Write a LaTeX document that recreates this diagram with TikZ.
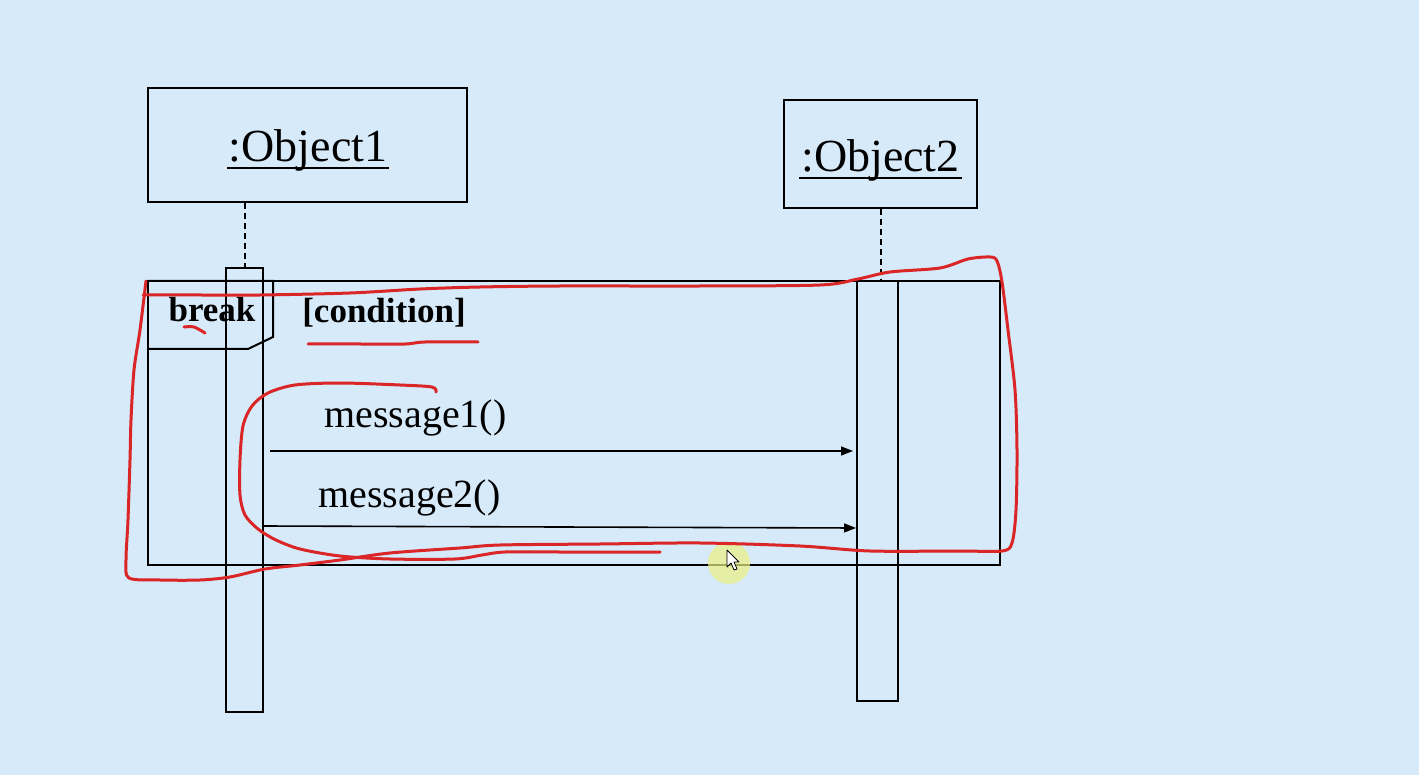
\documentclass[tikz,border=0pt]{standalone}
\usepackage{fontspec}
\setmainfont{Liberation Serif}
\usetikzlibrary{arrows.meta,calc}
\definecolor{bg}{RGB}{215,234,250}
\definecolor{ink}{RGB}{218,38,38}
\definecolor{hilite}{RGB}{236,240,130}
\begin{document}
\begin{tikzpicture}[x=1pt,y=-1pt,
  box/.style={draw=black, line width=2pt, inner sep=0pt, fill=none},
  objtxt/.style={inner sep=0pt, font=\fontsize{46}{52}\selectfont},
  msgtxt/.style={inner sep=0pt, font=\fontsize{40}{46}\selectfont},
  boldtxt/.style={inner sep=0pt, font=\fontsize{35}{40}\selectfont\bfseries},
  ulin/.style={line width=1.8pt},
  life/.style={line width=2pt, dash pattern=on 6pt off 4pt},
  msgarrow/.style={line width=1.6pt, -{Triangle[length=12pt,width=9pt]}},
  annot/.style={draw=ink, line width=3pt, line cap=round, line join=round}]
\fill[bg] (0,0) rectangle (1419,775);
\useasboundingbox (0,0) rectangle (1419,775);

% object boxes
\node[box, minimum width=319pt, minimum height=114pt] (o1) at (307.5,145) {};
\node[box, minimum width=193pt, minimum height=108pt] (o2) at (880.5,154) {};
\node[objtxt, anchor=base] (o1t) at (308,162) {:Object1};
\node[objtxt, anchor=base] (o2t) at (880.5,172) {:Object2};
\draw[ulin] ($(o1t.base west)+(-2,6)$) -- ($(o1t.base east)+(2,6)$);
\draw[ulin] ($(o2t.base west)+(-2,6)$) -- ($(o2t.base east)+(2,6)$);

% frame
\node[box, minimum width=852pt, minimum height=284pt] (fr) at (574,423) {};
\draw[line width=2pt] (148,281) -- (273,281) -- (273,337) -- (248,349) -- (148,349);

% activations
\node[box, minimum width=37pt, minimum height=444pt] (a1) at (244.5,490) {};
\node[box, minimum width=41pt, minimum height=420pt] (a2) at (877.5,491) {};

% lifelines
\draw[life] (a1.north |- o1.south) -- (a1.north);
\draw[life] (o2.south) -- (o2.south |- a2.north);

% labels
\node[boldtxt, anchor=base] (brk) at (212,322) {break};
\node[boldtxt, anchor=base] (cond) at (384,323) {[condition]};
\node[msgtxt, anchor=base] (m1) at (415.5,428) {message1()};
\node[msgtxt, anchor=base] (m2) at (409.5,507) {message2()};

% messages
\coordinate (s1) at (270,451);
\coordinate (s2) at (263,526);
\coordinate (e2) at (856,528);
\draw[msgarrow, shorten >=3pt] (s1) -- (a2.west |- s1);
\draw[msgarrow] (s2) -- (e2);

% cursor highlight
\fill[hilite, opacity=0.7] (729,563) circle (21);
\draw[fill=white, line width=0.8pt, line join=round]
  (727,550) -- (727,567) -- (731,563) -- (734,570) -- (737,569) -- (734,562) -- (739,562) -- cycle;

% red annotations
\draw[annot] plot[smooth, tension=0.5] coordinates {
  (143,295) (200,295) (260,295) (350,293) (420,289) (480,287) (560,286)
  (700,286) (820,285) (858,279) (890,272) (940,268) (968,259) (990,257)
  (997,261) (1002,282) (1008,330) (1015,390) (1017,450) (1016,510)
  (1012,543) (1002,551) (960,551) (870,551) (800,546) (700,543) (600,544)
  (500,545) (460,548) (390,553) (340,560) (300,565) (265,569) (230,577)
  (200,580) (160,580) (129,578) (126,560) (128,520) (130,460) (131,420)
  (134,370) (140,330) (146,281)};
\draw[annot] plot[smooth, tension=0.5] coordinates {
  (436,392) (432,387) (400,385) (340,383) (295,385) (268,393) (252,406)
  (243,426) (240,460) (240,495) (245,515) (258,529) (276,540) (300,549)
  (340,556) (390,559) (455,559) (482,555) (505,552) (560,552) (660,552)};
\draw[annot] plot[smooth, tension=0.5] coordinates {(184,327) (194,327) (205,333)};
\draw[annot] plot[smooth, tension=0.5] coordinates {(308,344) (360,344) (405,344) (425,342) (478,342)};
\end{tikzpicture}
\end{document}
